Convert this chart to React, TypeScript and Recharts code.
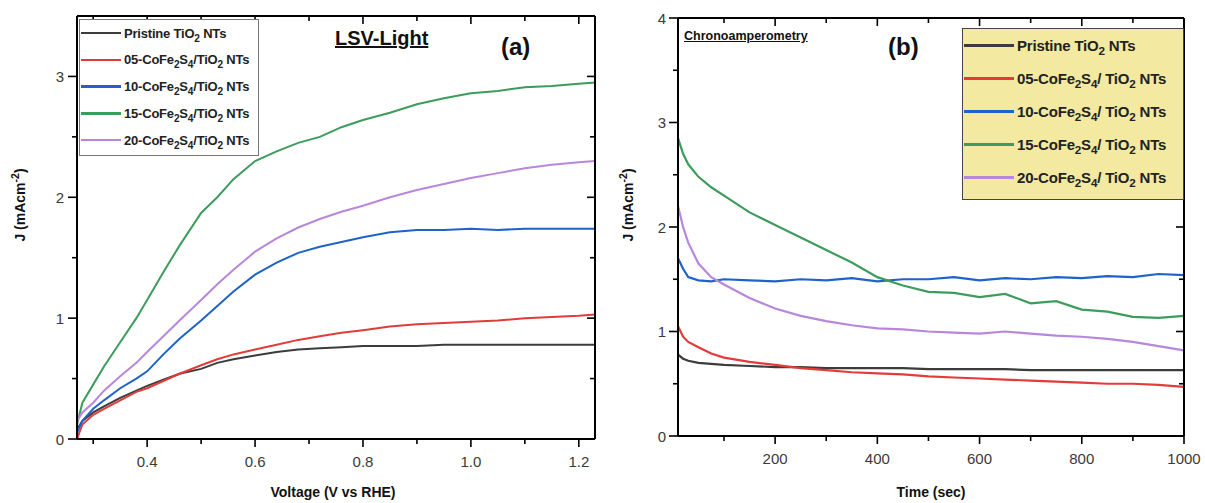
import React from 'react';
import { LineChart, Line, XAxis, YAxis } from 'recharts';

// ---------- Panel (a): LSV under light ----------
const voltage = [0.27, 0.28, 0.30, 0.32, 0.35, 0.38, 0.40, 0.43, 0.46, 0.50, 0.53, 0.56, 0.60, 0.64, 0.68, 0.72, 0.76, 0.80, 0.85, 0.90, 0.95, 1.00, 1.05, 1.10, 1.15, 1.20, 1.23];
const lsvPristine = [0.08, 0.15, 0.22, 0.27, 0.34, 0.40, 0.44, 0.49, 0.54, 0.58, 0.63, 0.66, 0.69, 0.72, 0.74, 0.75, 0.76, 0.77, 0.77, 0.77, 0.78, 0.78, 0.78, 0.78, 0.78, 0.78, 0.78];
const lsv05 = [0.0, 0.12, 0.20, 0.25, 0.32, 0.39, 0.42, 0.48, 0.54, 0.61, 0.66, 0.70, 0.74, 0.78, 0.82, 0.85, 0.88, 0.90, 0.93, 0.95, 0.96, 0.97, 0.98, 1.00, 1.01, 1.02, 1.03];
const lsv10 = [0.05, 0.15, 0.25, 0.32, 0.42, 0.50, 0.56, 0.70, 0.83, 0.98, 1.10, 1.22, 1.36, 1.46, 1.54, 1.59, 1.63, 1.67, 1.71, 1.73, 1.73, 1.74, 1.73, 1.74, 1.74, 1.74, 1.74];
const lsv15 = [0.12, 0.30, 0.45, 0.60, 0.80, 1.00, 1.15, 1.38, 1.60, 1.87, 2.00, 2.15, 2.30, 2.38, 2.45, 2.50, 2.58, 2.64, 2.70, 2.77, 2.82, 2.86, 2.88, 2.91, 2.92, 2.94, 2.95];
const lsv20 = [0.15, 0.22, 0.30, 0.40, 0.52, 0.63, 0.72, 0.85, 0.98, 1.15, 1.28, 1.40, 1.55, 1.66, 1.75, 1.82, 1.88, 1.93, 2.00, 2.06, 2.11, 2.16, 2.20, 2.24, 2.27, 2.29, 2.30];
const voltageTicks = [0.3, 0.4, 0.5, 0.6, 0.7, 0.8, 0.9, 1.0, 1.1, 1.2];
const lsvCurrentTicks = [0, 0.5, 1, 1.5, 2, 2.5, 3];

// ---------- Panel (b): Chronoamperometry ----------
const time = [10, 20, 30, 50, 75, 100, 150, 200, 250, 300, 350, 400, 450, 500, 550, 600, 650, 700, 750, 800, 850, 900, 950, 1000];
const caPristine = [0.78, 0.74, 0.72, 0.70, 0.69, 0.68, 0.67, 0.66, 0.66, 0.65, 0.65, 0.65, 0.65, 0.64, 0.64, 0.64, 0.64, 0.63, 0.63, 0.63, 0.63, 0.63, 0.63, 0.63];
const ca05 = [1.05, 0.95, 0.90, 0.85, 0.79, 0.75, 0.71, 0.68, 0.65, 0.63, 0.61, 0.60, 0.59, 0.57, 0.56, 0.55, 0.54, 0.53, 0.52, 0.51, 0.50, 0.50, 0.49, 0.47];
const ca10 = [1.70, 1.60, 1.52, 1.49, 1.48, 1.50, 1.49, 1.48, 1.50, 1.49, 1.51, 1.48, 1.50, 1.50, 1.52, 1.49, 1.51, 1.50, 1.52, 1.51, 1.53, 1.52, 1.55, 1.54];
const ca15 = [2.85, 2.70, 2.60, 2.48, 2.38, 2.30, 2.14, 2.02, 1.90, 1.78, 1.66, 1.52, 1.44, 1.38, 1.37, 1.33, 1.36, 1.27, 1.29, 1.21, 1.19, 1.14, 1.13, 1.15];
const ca20 = [2.20, 2.00, 1.85, 1.65, 1.52, 1.45, 1.32, 1.22, 1.15, 1.10, 1.06, 1.03, 1.02, 1.00, 0.99, 0.98, 1.00, 0.98, 0.96, 0.95, 0.93, 0.90, 0.86, 0.82];
const timeTicks = [100, 200, 300, 400, 500, 600, 700, 800, 900, 1000];
const caCurrentTicks = [0, 0.5, 1, 1.5, 2, 2.5, 3, 3.5, 4];

// ---------- Series ----------
const seriesKeys = ['pristine', 's05', 's10', 's15', 's20'];
const seriesColors = ['#3c3c3c', '#e23c3a', '#1d63c9', '#3c9c5c', '#b887dc'];
const legendNamesA = ['Pristine TiO_2 NTs', '05-CoFe_2S_4/TiO_2 NTs', '10-CoFe_2S_4/TiO_2 NTs', '15-CoFe_2S_4/TiO_2 NTs', '20-CoFe_2S_4/TiO_2 NTs'];
const legendNamesB = ['Pristine TiO_2 NTs', '05-CoFe_2S_4/ TiO_2 NTs', '10-CoFe_2S_4/ TiO_2 NTs', '15-CoFe_2S_4/ TiO_2 NTs', '20-CoFe_2S_4/ TiO_2 NTs'];

const lsvSeries = [lsvPristine, lsv05, lsv10, lsv15, lsv20];
const caSeries = [caPristine, ca05, ca10, ca15, ca20];

const lsvData = voltage.map((v, i) => {
  const row: Record<string, number> = { x: v };
  seriesKeys.forEach((k, j) => (row[k] = lsvSeries[j][i]));
  return row;
});
const caData = time.map((t, i) => {
  const row: Record<string, number> = { x: t };
  seriesKeys.forEach((k, j) => (row[k] = caSeries[j][i]));
  return row;
});

const FONT = '"Liberation Sans", Arial, sans-serif';
const TICK_COLOR = '#3a3a3a';

function renderSub(label: string, subSize = '0.78em') {
  const parts: React.ReactNode[] = [];
  let buf = '';
  for (let i = 0; i < label.length; i++) {
    if (label[i] === '_' && i + 1 < label.length) {
      if (buf) parts.push(buf);
      buf = '';
      parts.push(
        <sub key={i} style={{ fontSize: subSize, verticalAlign: '-0.35em', lineHeight: 0 }}>
          {label[i + 1]}
        </sub>
      );
      i++;
    } else buf += label[i];
  }
  if (buf) parts.push(buf);
  return parts;
}

type TickP = { x: number; y: number; payload: { value: number } };

const makeBottomTick = (isMajor: (v: number) => boolean, fmt: (v: number) => string) => (p: TickP) => {
  const major = isMajor(p.payload.value);
  return (
    <g>
      <line x1={p.x} x2={p.x} y1={p.y} y2={p.y + (major ? 8 : 5)} stroke="#000" strokeWidth={1.6} />
      {major && (
        <text x={p.x} y={p.y + 28} textAnchor="middle" fontSize={15} fontFamily={FONT} fill={TICK_COLOR}>
          {fmt(p.payload.value)}
        </text>
      )}
    </g>
  );
};
const makeTopTick = (isMajor: (v: number) => boolean) => (p: TickP) => {
  const major = isMajor(p.payload.value);
  return <line x1={p.x} x2={p.x} y1={p.y} y2={p.y + (major ? 8 : 5)} stroke="#000" strokeWidth={1.6} />;
};
const makeLeftTick = (isMajor: (v: number) => boolean, labelDx: number) => (p: TickP) => {
  const major = isMajor(p.payload.value);
  return (
    <g>
      <line x1={p.x - (major ? 9 : 5)} x2={p.x} y1={p.y} y2={p.y} stroke="#000" strokeWidth={1.6} />
      {major && (
        <text x={p.x - labelDx} y={p.y + 5.5} textAnchor="end" fontSize={15} fontFamily={FONT} fill={TICK_COLOR}>
          {String(p.payload.value)}
        </text>
      )}
    </g>
  );
};
const makeRightTick = (isMajor: (v: number) => boolean) => (p: TickP) => {
  const major = isMajor(p.payload.value);
  return <line x1={p.x - (major ? 8 : 5)} x2={p.x} y1={p.y} y2={p.y} stroke="#000" strokeWidth={1.6} />;
};

const isIntMajor = (v: number) => Math.abs(v - Math.round(v)) < 1e-6;
const isVoltMajor = (v: number) => Math.round(v * 10) % 2 === 0;
const isTimeMajor = (v: number) => Math.round(v) % 200 === 0;

const axisLine = { stroke: '#000', strokeWidth: 2 };

function Legend({ names, style, fontSize, rowGap, firstRow, swatchW, swatchStroke }: any) {
  return (
    <div style={{ position: 'absolute', boxSizing: 'border-box', ...style }}>
      {names.map((n: string, i: number) => (
        <div
          key={n}
          style={{
            position: 'absolute',
            left: 1,
            top: firstRow + i * rowGap,
            height: 0,
            display: 'flex',
            alignItems: 'center',
            whiteSpace: 'nowrap',
          }}
        >
          <div style={{ width: swatchW, height: swatchStroke, background: seriesColors[i], marginRight: 3 }} />
          <span style={{ fontFamily: FONT, fontWeight: 700, fontSize, color: '#222', lineHeight: 1, letterSpacing: -0.2 }}>
            {renderSub(n)}
          </span>
        </div>
      ))}
    </div>
  );
}

function YLabel({ left, top }: { left: number; top: number }) {
  return (
    <div
      style={{
        position: 'absolute',
        left,
        top,
        transform: 'translate(-50%, -50%) rotate(-90deg)',
        fontFamily: FONT,
        fontWeight: 700,
        fontSize: 14,
        color: '#111',
        whiteSpace: 'nowrap',
      }}
    >
      J (mAcm<sup style={{ fontSize: '0.75em', verticalAlign: '0.6em', lineHeight: 0 }}>-2</sup>)
    </div>
  );
}

function Frame({ domainX, domainY, xTicks, yTicks, isXMajor, xFmt, leftDx }: any) {
  return [
    <XAxis
      key="xb"
      xAxisId="b"
      dataKey="x"
      type="number"
      domain={domainX}
      allowDataOverflow
      ticks={xTicks}
      interval={0}
      height={1}
      tickSize={0}
      tickMargin={0}
      axisLine={axisLine}
      tickLine={false}
      tick={makeBottomTick(isXMajor, xFmt)}
    />,
    <XAxis
      key="xt"
      xAxisId="t"
      orientation="top"
      dataKey="x"
      type="number"
      domain={domainX}
      allowDataOverflow
      ticks={xTicks}
      interval={0}
      height={1}
      tickSize={0}
      tickMargin={0}
      axisLine={axisLine}
      tickLine={false}
      tick={makeTopTick(isXMajor)}
    />,
    <YAxis
      key="yl"
      yAxisId="l"
      type="number"
      domain={domainY}
      allowDataOverflow
      ticks={yTicks}
      interval={0}
      width={1}
      tickSize={0}
      tickMargin={0}
      axisLine={axisLine}
      tickLine={false}
      tick={makeLeftTick(isIntMajor, leftDx)}
    />,
    <YAxis
      key="yr"
      yAxisId="r"
      orientation="right"
      type="number"
      domain={domainY}
      allowDataOverflow
      ticks={yTicks}
      interval={0}
      width={1}
      tickSize={0}
      tickMargin={0}
      axisLine={axisLine}
      tickLine={false}
      tick={makeRightTick(isIntMajor)}
    />,
  ];
}

export default function App() {
  return (
    <div style={{ position: 'absolute', left: 0, top: 0, width: 1205, height: 503, background: '#fff', overflow: 'hidden' }}>
      {/* Panel (a) */}
      <div style={{ position: 'absolute', left: 0, top: 0 }}>
        <LineChart width={610} height={503} data={lsvData} margin={{ top: 15, right: 14, bottom: 63, left: 76 }}>
          {Frame({
            domainX: [0.27, 1.23],
            domainY: [0, 3.5],
            xTicks: voltageTicks,
            yTicks: lsvCurrentTicks,
            isXMajor: isVoltMajor,
            xFmt: (v: number) => v.toFixed(1),
            leftDx: 13,
          })}
          {seriesKeys.map((k, i) => (
            <Line
              key={k}
              xAxisId="b"
              yAxisId="l"
              dataKey={k}
              type="linear"
              stroke={seriesColors[i]}
              strokeWidth={2}
              dot={false}
              isAnimationActive={false}
            />
          ))}
        </LineChart>
      </div>

      {/* Panel (b) */}
      <div style={{ position: 'absolute', left: 610, top: 0 }}>
        <LineChart width={595} height={503} data={caData} margin={{ top: 17, right: 20, bottom: 66, left: 67 }}>
          {Frame({
            domainX: [10, 1000],
            domainY: [0, 4],
            xTicks: timeTicks,
            yTicks: caCurrentTicks,
            isXMajor: isTimeMajor,
            xFmt: (v: number) => String(v),
            leftDx: 12,
          })}
          {seriesKeys.map((k, i) => (
            <Line
              key={k}
              xAxisId="b"
              yAxisId="l"
              dataKey={k}
              type="linear"
              stroke={seriesColors[i]}
              strokeWidth={2.2}
              dot={false}
              isAnimationActive={false}
            />
          ))}
        </LineChart>
      </div>

      {/* Legends */}
      <Legend
        names={legendNamesA}
        style={{ left: 79, top: 19, width: 180, height: 137, background: '#fff', border: '1px solid #777' }}
        fontSize={13}
        rowGap={26.8}
        firstRow={13}
        swatchW={40}
        swatchStroke={2.5}
      />
      <Legend
        names={legendNamesB}
        style={{ left: 962, top: 28, width: 222, height: 172, background: '#f3e9a0', border: '1px solid #444' }}
        fontSize={15}
        rowGap={33}
        firstRow={16}
        swatchW={50}
        swatchStroke={3}
      />

      {/* Titles */}
      <div style={{ position: 'absolute', left: 335, top: 27, fontFamily: FONT, fontWeight: 700, fontSize: 20, textDecoration: 'underline', color: '#111', whiteSpace: 'nowrap' }}>
        LSV-Light
      </div>
      <div style={{ position: 'absolute', left: 501, top: 33, fontFamily: FONT, fontWeight: 700, fontSize: 24, color: '#111' }}>(a)</div>
      <div style={{ position: 'absolute', left: 684, top: 29, fontFamily: FONT, fontWeight: 700, fontSize: 12.5, textDecoration: 'underline', color: '#111', whiteSpace: 'nowrap' }}>
        Chronoamperometry
      </div>
      <div style={{ position: 'absolute', left: 888, top: 33, fontFamily: FONT, fontWeight: 700, fontSize: 24, color: '#111' }}>(b)</div>

      {/* Axis labels */}
      <YLabel left={20} top={205} />
      <YLabel left={628} top={205} />
      <div style={{ position: 'absolute', left: 333, top: 492, transform: 'translate(-50%, -50%)', fontFamily: FONT, fontWeight: 700, fontSize: 14, color: '#111', whiteSpace: 'nowrap' }}>
        Voltage (V vs RHE)
      </div>
      <div style={{ position: 'absolute', left: 931, top: 492, transform: 'translate(-50%, -50%)', fontFamily: FONT, fontWeight: 700, fontSize: 14, color: '#111', whiteSpace: 'nowrap' }}>
        Time (sec)
      </div>
    </div>
  );
}
